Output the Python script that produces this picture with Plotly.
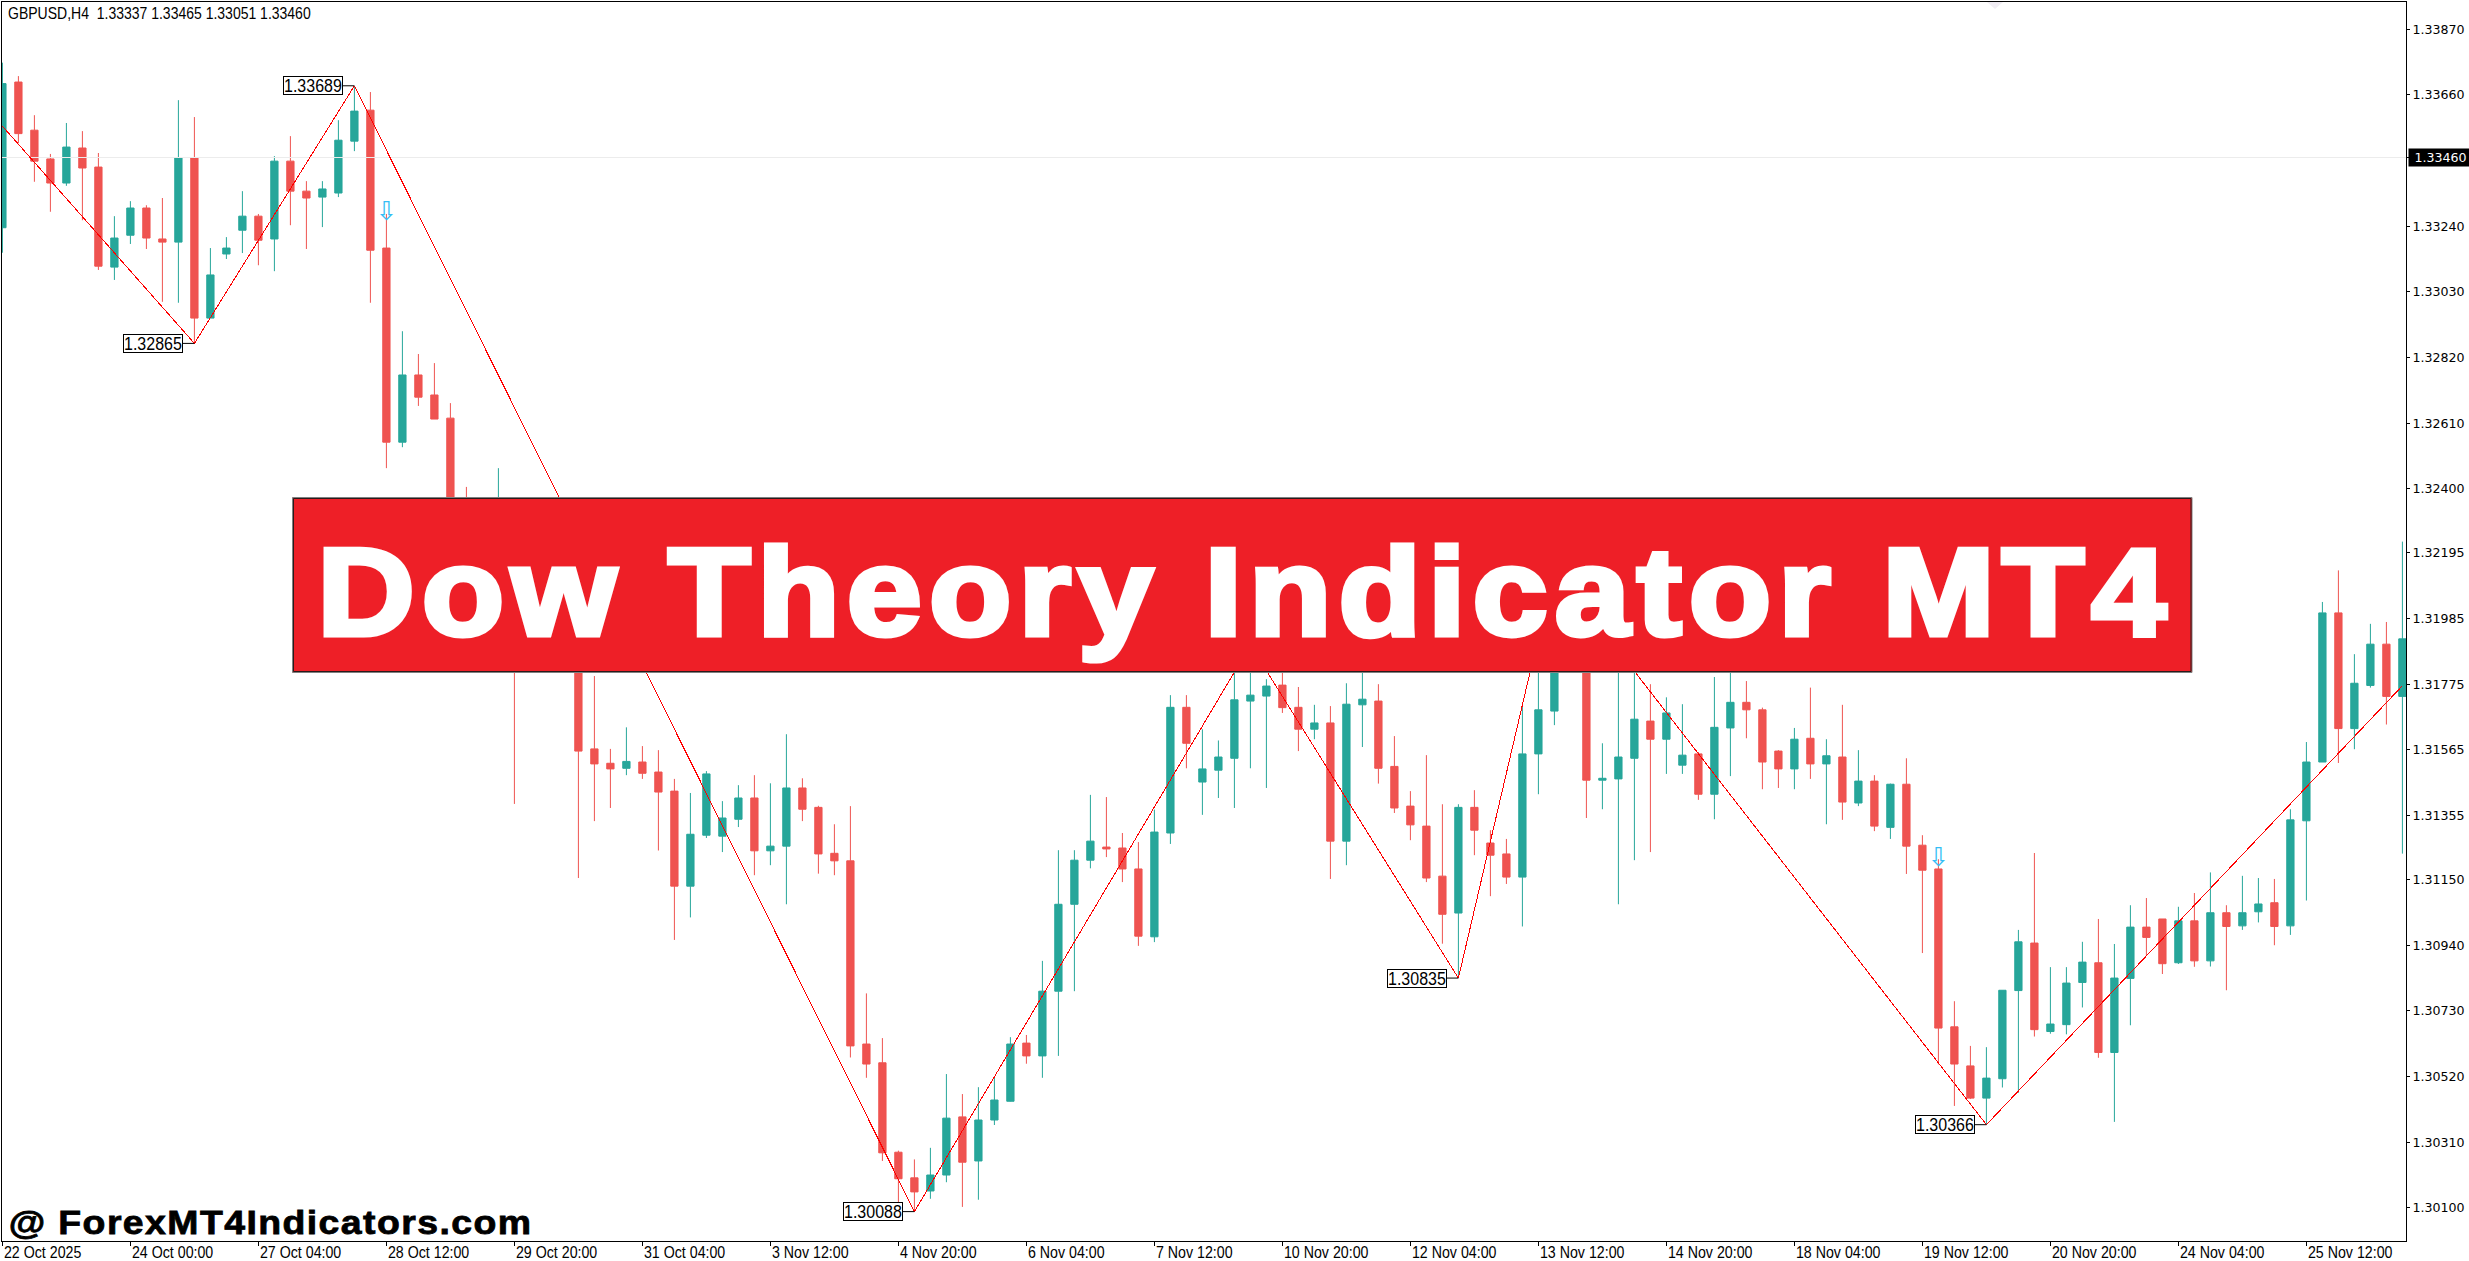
import plotly.graph_objects as go

opens = [
1.33235,1.33701,1.33547,1.33455,1.33378,1.33490,1.33429,1.33109,1.33211,1.33298,
1.33199,1.33189,1.33458,1.32946,1.33151,1.33227,1.33272,1.33199,1.33448,1.33352,
1.33333,1.33346,1.33512,1.33611,1.33170,1.32549,1.32764,1.32700,1.32626,1.32268,
1.32044,1.31980,1.32236,1.32044,1.31916,1.32012,1.31916,1.31568,1.31522,1.31506,
1.31526,1.31494,1.31433,1.31129,1.31292,1.31289,1.31343,1.31411,1.31242,1.31257,
1.31443,1.31381,1.31234,1.31210,1.30624,1.30564,1.30278,1.30196,1.30154,1.30205,
1.30391,1.30250,1.30381,1.30441,1.30627,1.30586,1.30793,1.31071,1.31212,1.31254,
1.31251,1.31184,1.30967,1.31299,1.31701,1.31462,1.31500,1.31538,1.31721,1.31737,
1.31772,1.31701,1.31631,1.31651,1.31273,1.31709,1.31721,1.31512,1.31385,1.31321,
1.31161,1.31043,1.31381,1.31267,1.31232,1.31158,1.31552,1.31689,1.31990,1.32000,
1.31468,1.31472,1.31538,1.31657,1.31599,1.31516,1.31552,1.31423,1.31635,1.31717,
1.31693,1.31561,1.31504,1.31602,1.31520,1.31542,1.31395,1.31465,1.31317,1.31455,
1.31260,1.31184,1.30679,1.30554,1.30451,1.30513,1.30795,1.30947,1.30664,1.30686,
1.30821,1.30884,1.30597,1.30834,1.30998,1.31024,1.30884,1.31018,1.30890,1.31044,
1.31002,1.31047,1.31076,1.31002,1.31338,1.31526,1.32003,1.31633,1.31771,1.31903,1.31736]

closes = [
1.33696,1.33536,1.33448,1.33378,1.33493,1.33426,1.33112,1.33202,1.33298,1.33202,
1.33189,1.33458,1.32946,1.33084,1.33170,1.33272,1.33195,1.33448,1.33352,1.33330,
1.33359,1.33515,1.33608,1.33163,1.32549,1.32764,1.32693,1.32623,1.32172,1.32076,
1.32172,1.32236,1.31884,1.31916,1.32012,1.31884,1.31561,1.31520,1.31504,1.31528,
1.31490,1.31430,1.31129,1.31295,1.31488,1.31347,1.31411,1.31242,1.31257,1.31443,
1.31375,1.31232,1.31210,1.30618,1.30560,1.30276,1.30193,1.30151,1.30205,1.30387,
1.30246,1.30381,1.30445,1.30624,1.30586,1.30793,1.31071,1.31212,1.31273,1.31248,
1.31184,1.30969,1.31302,1.31701,1.31586,1.31504,1.31542,1.31725,1.31740,1.31769,
1.31700,1.31631,1.31651,1.31273,1.31711,1.31727,1.31506,1.31379,1.31325,1.31155,
1.31039,1.31381,1.31308,1.31228,1.31158,1.31552,1.31693,1.32044,1.31900,1.31468,
1.31474,1.31542,1.31663,1.31599,1.31683,1.31548,1.31423,1.31637,1.31717,1.31693,
1.31526,1.31504,1.31599,1.31520,1.31546,1.31398,1.31465,1.31321,1.31455,1.31257,
1.31180,1.30675,1.30560,1.30451,1.30515,1.30796,1.30951,1.30670,1.30688,1.30819,
1.30886,1.30597,1.30835,1.30998,1.30965,1.30881,1.31018,1.30890,1.31044,1.31000,
1.31044,1.31072,1.31000,1.31341,1.31526,1.32003,1.31633,1.31778,1.31903,1.31736,1.31920]

highs = [
1.33763,1.33720,1.33595,1.33471,1.33570,1.33544,1.33474,1.33272,1.33320,1.33307,
1.33330,1.33643,1.33589,1.33170,1.33205,1.33352,1.33279,1.33464,1.33528,1.33384,
1.33384,1.33579,1.33689,1.33669,1.33279,1.32904,1.32831,1.32802,1.32674,1.32406,
1.32236,1.32466,1.32332,1.32076,1.32044,1.32044,1.31980,1.31801,1.31568,1.31637,
1.31577,1.31564,1.31472,1.31427,1.31497,1.31401,1.31452,1.31484,1.31458,1.31615,
1.31474,1.31386,1.31327,1.31385,1.30786,1.30643,1.30283,1.30255,1.30292,1.30528,
1.30464,1.30486,1.30516,1.30646,1.30653,1.30890,1.31244,1.31244,1.31421,1.31414,
1.31299,1.31270,1.31374,1.31740,1.31740,1.31631,1.31595,1.31900,1.31900,1.31791,
1.31860,1.31766,1.31709,1.31705,1.31778,1.31880,1.31775,1.31609,1.31433,1.31548,
1.31391,1.31391,1.31436,1.31308,1.31280,1.31705,1.31900,1.32146,1.32050,1.32040,
1.31586,1.31900,1.31880,1.31775,1.31733,1.31711,1.31558,1.31798,1.31880,1.31785,
1.31700,1.31564,1.31635,1.31764,1.31599,1.31709,1.31564,1.31484,1.31457,1.31538,
1.31292,1.31215,1.30761,1.30618,1.30614,1.30796,1.30989,1.31235,1.30870,1.30870,
1.30951,1.31024,1.30944,1.31068,1.31091,1.31024,1.31063,1.31107,1.31173,1.31068,
1.31162,1.31155,1.31152,1.31375,1.31590,1.32038,1.32139,1.31871,1.31968,1.31974,1.32231]

lows = [
1.33155,1.33505,1.33382,1.33286,1.33369,1.33259,1.33100,1.33068,1.33183,1.33167,
1.32998,1.32995,1.32865,1.32946,1.33135,1.33154,1.33115,1.33096,1.33243,1.33167,
1.33237,1.33333,1.33480,1.32995,1.32466,1.32533,1.32665,1.32623,1.32124,1.32012,
1.31980,1.31916,1.31392,1.31852,1.31852,1.31836,1.31155,1.31337,1.31379,1.31484,
1.31472,1.31243,1.30957,1.31029,1.31283,1.31238,1.31318,1.31164,1.31196,1.31071,
1.31337,1.31169,1.31164,1.30581,1.30516,1.30250,1.30099,1.30088,1.30129,1.30182,
1.30103,1.30126,1.30365,1.30440,1.30561,1.30516,1.30586,1.30793,1.31186,1.31222,
1.31142,1.30938,1.30950,1.31264,1.31506,1.31357,1.31411,1.31379,1.31506,1.31443,
1.31683,1.31561,1.31599,1.31152,1.31196,1.31574,1.31457,1.31363,1.31276,1.31142,
1.30945,1.30835,1.31228,1.31097,1.31136,1.31000,1.31423,1.31644,1.31870,1.31347,
1.31375,1.31071,1.31212,1.31238,1.31488,1.31488,1.31405,1.31343,1.31481,1.31602,
1.31439,1.31443,1.31439,1.31472,1.31327,1.31341,1.31385,1.31305,1.31280,1.31168,
1.30915,1.30559,1.30426,1.30448,1.30366,1.30485,1.30468,1.30648,1.30657,1.30655,
1.30741,1.30580,1.30375,1.30684,1.30906,1.30848,1.30880,1.30871,1.30872,1.30796,
1.30989,1.31013,1.30940,1.30973,1.31083,1.31526,1.31523,1.31567,1.31764,1.31646,1.31233]

bar_numbers = list(range(len(opens)))

date_tick_bars = [0,8,16,24,32,40,48,56,64,72,80,88,96,104,112,120,128,136,144]
date_tick_labels = ["22 Oct 2025","24 Oct 00:00","27 Oct 04:00","28 Oct 12:00","29 Oct 20:00",
    "31 Oct 04:00","3 Nov 12:00","4 Nov 20:00","6 Nov 04:00","7 Nov 12:00","10 Nov 20:00",
    "12 Nov 04:00","13 Nov 12:00","14 Nov 20:00","18 Nov 04:00","19 Nov 12:00","20 Nov 20:00",
    "24 Nov 04:00","25 Nov 12:00"]

price_ticks = [1.33870,1.33660,1.33460,1.33240,1.33030,1.32820,1.32610,1.32400,1.32195,1.31985,
    1.31775,1.31565,1.31355,1.31150,1.30940,1.30730,1.30520,1.30310,1.30100]
price_tick_labels = ["" if p == 1.33460 else f"{p:.5f}" for p in price_ticks]

zigzag_bars = [0,12,22,57,78,91,97,124,150]
zigzag_prices = [1.33560,1.32865,1.33689,1.30088,1.31900,1.30835,1.32146,1.30366,1.31770]
zigzag_label_bars = [12,22,57,91,124]
zigzag_label_prices = [1.32865,1.33689,1.30088,1.30835,1.30366]

signal_bars = [24,121]
signal_prices = [1.33279,1.31215]

current_price = 1.33460
header_text = "GBPUSD,H4  1.33337 1.33465 1.33051 1.33460"
banner_text = "Dow Theory Indicator MT4"
watermark_text = "@ ForexMT4Indicators.com"

W, H = 2469, 1261
L, R, T, B = 2, 63, 2, 20
PW, PH = W - L - R, H - T - B
def px(x): return (x - L) / PW
def py(y): return 1 - (y - T) / PH

GREEN, RED = "#26a69a", "#ef5350"
SANS = "Liberation Sans"

fig = go.Figure()
fig.add_trace(go.Candlestick(
    x=bar_numbers, open=opens, high=highs, low=lows, close=closes,
    increasing=dict(line=dict(color=GREEN, width=1), fillcolor=GREEN),
    decreasing=dict(line=dict(color=RED, width=1), fillcolor=RED),
    whiskerwidth=0, showlegend=False, hoverinfo="skip"))
fig.add_trace(go.Scatter(x=[-1, 151], y=[current_price, current_price], mode="lines",
    line=dict(color="#ececec", width=1), showlegend=False, hoverinfo="skip"))
fig.add_trace(go.Scatter(x=zigzag_bars, y=zigzag_prices, mode="lines",
    line=dict(color="#ff0000", width=1), showlegend=False, hoverinfo="skip"))
fig.add_trace(go.Scatter(x=signal_bars, y=signal_prices, mode="text", text=["⇩"] * len(signal_bars),
    textposition="middle center", textfont=dict(family="DejaVu Sans", size=26, color="#35bdf5"),
    showlegend=False, hoverinfo="skip"))

ann = []
ann.append(dict(xref="paper", yref="paper", x=px(6), y=py(13), xanchor="left", yanchor="middle",
    text=header_text, showarrow=False, font=dict(family=SANS, size=14, color="black")))
for b, lbl in zip(date_tick_bars, date_tick_labels):
    ann.append(dict(xref="x", yref="paper", x=b, y=py(1252), xanchor="left", yanchor="middle",
        text=lbl, showarrow=False, font=dict(family=SANS, size=14.2, color="black")))
for b, p in zip(zigzag_label_bars, zigzag_label_prices):
    ann.append(dict(xref="x", yref="y", x=b, y=p, ax=-41, ay=0, axref="pixel", ayref="pixel",
        text=f"{p:.5f}", showarrow=True, arrowhead=0, arrowwidth=1, arrowcolor="black",
        standoff=0, startstandoff=0, bgcolor="white", bordercolor="black", borderwidth=1, borderpad=0,
        font=dict(family=SANS, size=16, color="black")))
ann.append(dict(xref="paper", yref="y", x=1, y=current_price, xanchor="left", yanchor="middle",
    xshift=2, text=f"{current_price:.5f}", showarrow=False, bgcolor="black", width=61, height=15, align="center",
    font=dict(family="DejaVu Sans", size=12.6, color="white")))
ann.append(dict(xref="paper", yref="paper", x=px(1245), y=py(591), xanchor="center", yanchor="middle",
    text=banner_text, showarrow=False, font=dict(family=SANS, size=125, color="white", weight="bold")))
ann.append(dict(xref="paper", yref="paper", x=px(270), y=py(1222), xanchor="center", yanchor="middle",
    text=watermark_text, showarrow=False, font=dict(family=SANS, size=34, color="black", weight="bold")))

shapes = [
    dict(type="rect", xref="paper", yref="paper", x0=px(292.5), x1=px(2192), y0=py(497.5), y1=py(672.5),
         line=dict(color="#7f7f7f", width=1), fillcolor="#ee1f27", layer="above"),
    dict(type="rect", xref="paper", yref="paper", x0=px(293.5), x1=px(2191), y0=py(498.5), y1=py(671.5),
         line=dict(color="#2a1a1a", width=1), fillcolor="#ee1f27", layer="above"),
    dict(type="path", xref="paper", yref="paper", layer="above", line=dict(width=0), fillcolor="#f1edf4",
         path=f"M {px(1987)} {py(2)} L {px(2003)} {py(2)} L {px(1995)} {py(9)} Z"),
]

fig.update_layout(
    width=W, height=H, margin=dict(l=L, r=R, t=T, b=B, autoexpand=False),
    paper_bgcolor="white", plot_bgcolor="white", showlegend=False, boxgap=0.35,
    annotations=ann, shapes=shapes,
    xaxis=dict(range=[-0.025, 150.225], tickmode="array", tickvals=date_tick_bars, ticktext=[""] * len(date_tick_bars),
        ticks="outside", ticklen=4, tickcolor="black", showgrid=False, zeroline=False,
        showline=True, linecolor="black", linewidth=1, mirror=True, rangeslider=dict(visible=False)),
    yaxis=dict(range=[1.29994, 1.33957], side="right", tickmode="array", tickvals=price_ticks, ticktext=price_tick_labels,
        ticks="outside", ticklen=3, tickcolor="black", showgrid=False, zeroline=False,
        showline=True, linecolor="black", linewidth=1, mirror=True,
        tickfont=dict(family="DejaVu Sans", size=12.6, color="black")),
)

post = """
document.body.style.margin='0';
document.querySelectorAll('.scatterlayer .js-line').forEach(function(l){ l.style.shapeRendering='crispEdges'; });
function shape(t, tf){ t.style.transformBox='fill-box'; t.style.transformOrigin='center'; t.style.transform=tf; }
document.querySelectorAll('.annotation-text').forEach(function(t){
  var s=t.textContent;
  if(s.indexOf('Dow Theory')===0){ t.style.letterSpacing='6.5px'; t.style.stroke='white'; t.style.strokeWidth='5px'; shape(t,'scaleX(1.08)'); }
  else if(s.charAt(0)==='@'){ t.style.letterSpacing='1.3px'; t.style.stroke='black'; t.style.strokeWidth='0.8px'; shape(t,'scaleX(1.1)'); }
  else if(/^GBPUSD|^\\d+ (Oct|Nov)/.test(s)){ shape(t,'scaleY(1.15)'); }
  else if(/^1\\.\\d{5}$/.test(s) && t.style.fontFamily.indexOf('DejaVu')<0){ shape(t,'scaleY(1.1)'); }
});
"""
fig.write_html("out.html", post_script=post, config={"displayModeBar": False})
